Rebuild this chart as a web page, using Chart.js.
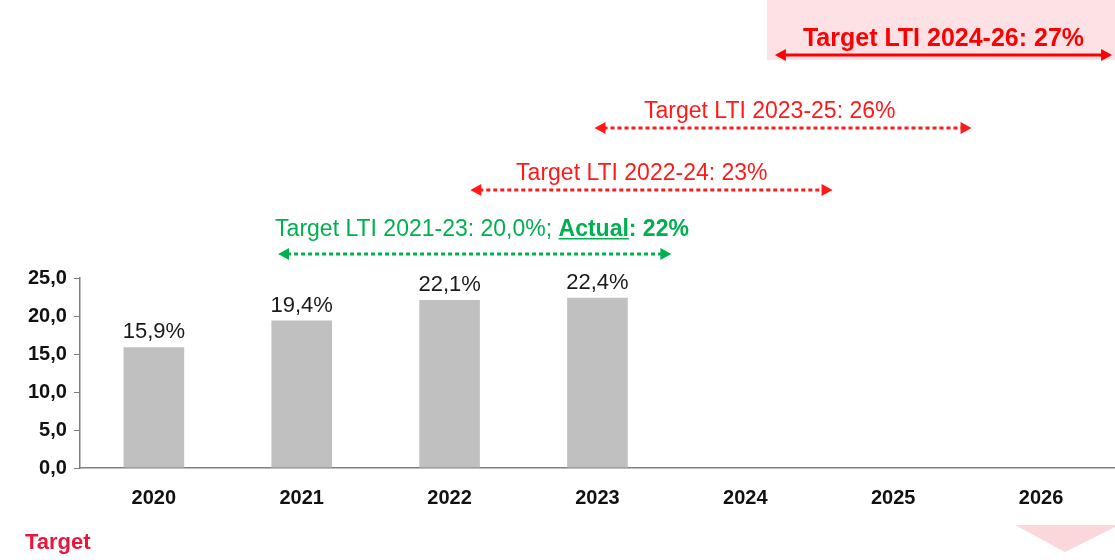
<!DOCTYPE html>
<html>
<head>
<meta charset="utf-8">
<script src="https://cdn.jsdelivr.net/npm/chart.js@4"></script>
<style>
  html, body { margin: 0; padding: 0; background: #fff; }
  #wrap { width: 1115px; height: 560px; position: relative; }
</style>
</head>
<body>
<div id="wrap"><canvas id="ltiChart"></canvas></div>
<script>
const years = ['2020', '2021', '2022', '2023', '2024', '2025', '2026']
const ltiValues = [15.9, 19.4, 22.1, 22.4, null, null, null]
const valueLabels = ['15,9%', '19,4%', '22,1%', '22,4%']

// target periods, spans in category units (0 = 2020)
const targetTexts = [
  'Target LTI 2021-23: 20,0%; ',
  'Target LTI 2022-24: 23%',
  'Target LTI 2023-25: 26%',
  'Target LTI 2024-26: 27%',
]
const targetFrom = [0.84, 2.14, 2.98, 4.20]
const targetTo = [3.50, 4.59, 5.53, 6.48]
const targetTextAt = [0.82, 3.30, 4.165, 5.34]
const actualText = 'Actual: 22%'

const FONT = '"Liberation Sans", Arial, sans-serif'
const GREEN = '#00b050'
const RED = '#ff1a1a'

function fmtComma(v) {
  return v.toFixed(1).replace('.', ',')
}

function drawArrow(ctx, x1, x2, y, color, dotted) {
  const head = 11
  const half = 6
  ctx.save()
  ctx.strokeStyle = color
  ctx.fillStyle = color
  ctx.lineWidth = 3
  ctx.lineCap = 'butt'
  if (dotted) ctx.setLineDash([4, 3])
  ctx.beginPath()
  ctx.moveTo(x1 + head - 2, y)
  ctx.lineTo(x2 - head + 2, y)
  ctx.stroke()
  ctx.setLineDash([])
  ctx.beginPath()
  ctx.moveTo(x1, y)
  ctx.lineTo(x1 + head, y - half)
  ctx.lineTo(x1 + head, y + half)
  ctx.closePath()
  ctx.fill()
  ctx.beginPath()
  ctx.moveTo(x2, y)
  ctx.lineTo(x2 - head, y - half)
  ctx.lineTo(x2 - head, y + half)
  ctx.closePath()
  ctx.fill()
  ctx.restore()
}

const valueLabelPlugin = {
  id: 'valueLabels',
  afterDatasetsDraw(chart) {
    const ctx = chart.ctx
    const meta = chart.getDatasetMeta(0)
    ctx.save()
    ctx.font = `22px ${FONT}`
    ctx.fillStyle = '#1a1a1a'
    ctx.textAlign = 'center'
    ctx.textBaseline = 'alphabetic'
    meta.data.forEach((bar, i) => {
      if (ltiValues[i] == null) return
      ctx.fillText(valueLabels[i], bar.x, bar.y - 9)
    })
    ctx.restore()
  },
}

const targetPlugin = {
  id: 'targets',
  afterDraw(chart) {
    const ctx = chart.ctx
    const x = chart.scales.x
    const top = chart.chartArea.top
    const px = v => x.getPixelForValue(v)
    const lineY = [top - 24, top - 88, top - 150, top - 223]

    ctx.save()
    // pink band behind the latest target
    ctx.fillStyle = '#fde1e5'
    ctx.fillRect(px(targetFrom[3]) - 8, 0, chart.width, lineY[3] + 5)

    // green: 2021-23 with actual
    ctx.font = `23px ${FONT}`
    ctx.textBaseline = 'alphabetic'
    ctx.textAlign = 'left'
    ctx.fillStyle = GREEN
    const gx = px(targetTextAt[0])
    const gy = lineY[0] - 18
    ctx.fillText(targetTexts[0], gx, gy)
    const w0 = ctx.measureText(targetTexts[0]).width
    ctx.font = `bold 23px ${FONT}`
    ctx.fillText(actualText, gx + w0, gy)
    const wa = ctx.measureText('Actual').width
    ctx.fillRect(gx + w0, gy + 2, wa, 1.5)
    drawArrow(ctx, px(targetFrom[0]), px(targetTo[0]), lineY[0], GREEN, true)

    // red dotted: 2022-24, 2023-25
    ctx.font = `23px ${FONT}`
    ctx.textAlign = 'center'
    ctx.fillStyle = RED
    for (const i of [1, 2]) {
      ctx.fillText(targetTexts[i], px(targetTextAt[i]), lineY[i] - 10)
      drawArrow(ctx, px(targetFrom[i]), px(targetTo[i]), lineY[i], RED, true)
    }

    // red solid bold: 2024-26
    ctx.font = `bold 25px ${FONT}`
    ctx.fillStyle = '#ff0000'
    ctx.fillText(targetTexts[3], px(targetTextAt[3]), lineY[3] - 9)
    drawArrow(ctx, px(targetFrom[3]), px(targetTo[3]), lineY[3], '#ff0000', false)

    // footer
    ctx.textAlign = 'left'
    ctx.font = `bold 22px ${FONT}`
    ctx.fillStyle = '#e8173c'
    ctx.fillText('Target', 25, chart.height - 11)

    ctx.fillStyle = '#fbd7dc'
    ctx.beginPath()
    ctx.moveTo(chart.width - 100, chart.height - 35)
    ctx.lineTo(chart.width + 4, chart.height - 35)
    ctx.lineTo(chart.width - 50, chart.height - 8)
    ctx.closePath()
    ctx.fill()
    ctx.restore()
  },
}

new Chart(document.getElementById('ltiChart'), {
  type: 'bar',
  data: {
    labels: years,
    datasets: [{
      data: ltiValues,
      backgroundColor: '#c0c0c0',
      borderWidth: 0,
      categoryPercentage: 1,
      barPercentage: 0.41,
    }],
  },
  options: {
    responsive: true,
    maintainAspectRatio: false,
    animation: false,
    layout: { padding: { top: 278, right: 0, bottom: 40, left: 21 } },
    plugins: {
      legend: { display: false },
      tooltip: { enabled: false },
    },
    scales: {
      x: {
        grid: { display: false },
        border: { display: true, color: '#7f7f7f', width: 1.5 },
        ticks: {
          color: '#111',
          font: { family: FONT, size: 20, weight: 'bold' },
          padding: 10,
        },
      },
      y: {
        min: 0,
        max: 25,
        grid: { drawOnChartArea: false, tickLength: 6, color: '#7f7f7f' },
        border: { display: true, color: '#7f7f7f', width: 1.5 },
        ticks: {
          stepSize: 5,
          color: '#111',
          font: { family: FONT, size: 20, weight: 'bold' },
          padding: 7,
          callback: v => fmtComma(v),
        },
      },
    },
  },
  plugins: [valueLabelPlugin, targetPlugin],
})
</script>
</body>
</html>
